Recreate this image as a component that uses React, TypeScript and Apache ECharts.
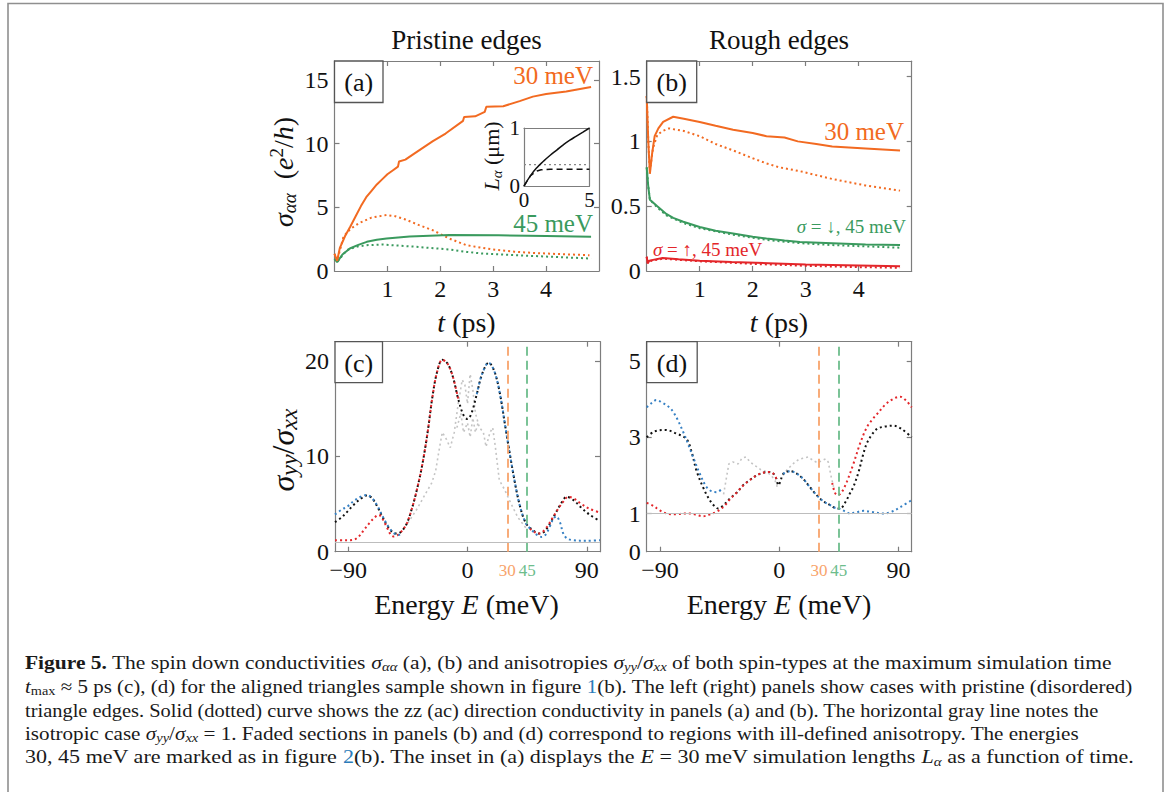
import React, { useEffect, useRef } from 'react';
import * as echarts from 'echarts';

// ---------------- colours & fonts ----------------
const ORANGE = '#f26a21';
const GREEN = '#3a9a5e';
const RED = '#e3262a';
const BLUE = '#3680c4';
const BLACK = '#111111';
const FADED = '#c4c4c4';
const ORANGE_L = '#f8a46c';
const GREEN_L = '#6dbd8c';
const AXIS_COLOR = '#7d7d7d';
const FONT = 'Liberation Serif';

// ---------------- data: panel (a)  [t (ps), sigma (e^2/h)] ----------------
const a30Solid = [[0, 1.35], [0.05, 0.8], [0.1, 1.8], [0.2, 2.75], [0.3, 3.5], [0.4, 4.3], [0.5, 5.1], [0.6, 5.8], [0.7, 6.3], [0.8, 6.8], [0.9, 7.2], [1.0, 7.6], [1.1, 7.9], [1.2, 8.2], [1.22, 8.6], [1.34, 8.75], [1.5, 9.2], [1.86, 10.2], [2.1, 10.8], [2.43, 11.8], [2.45, 12.1], [2.66, 12.15], [2.84, 12.5], [2.87, 12.9], [3.19, 12.95], [3.5, 13.35], [3.75, 13.7], [4.0, 13.9], [4.38, 14.1], [4.85, 14.45]];
const a30Dot = [[0, 1.35], [0.05, 0.8], [0.17, 2.7], [0.3, 3.3], [0.46, 3.75], [0.7, 4.2], [0.985, 4.4], [1.15, 4.3], [1.34, 4.05], [1.6, 3.6], [1.86, 3.2], [2.17, 2.55], [2.49, 2.03], [2.75, 1.85], [2.99, 1.69], [3.4, 1.52], [3.75, 1.42], [4.3, 1.32], [4.82, 1.24]];
const a45Solid = [[0, 0.95], [0.05, 0.7], [0.15, 1.3], [0.29, 1.77], [0.45, 2.05], [0.61, 2.29], [0.8, 2.45], [0.985, 2.55], [1.42, 2.72], [2.17, 2.82], [3.1, 2.8], [4.0, 2.75], [4.85, 2.7]];
const a45Dot = [[0, 0.95], [0.05, 0.7], [0.23, 1.63], [0.4, 1.9], [0.61, 2.03], [0.9, 2.08], [1.2, 2.0], [1.55, 1.9], [2.17, 1.69], [2.5, 1.5], [2.8, 1.37], [3.3, 1.27], [3.75, 1.18], [4.3, 1.08], [4.85, 0.98]];

// inset: [t (ps), L (um)]
const insetSolid = [[0, 0], [0.5, 0.18], [1, 0.32], [1.5, 0.43], [2, 0.53], [2.5, 0.62], [3, 0.71], [3.5, 0.79], [4, 0.86], [4.5, 0.93], [5, 1.0]];
const insetDashed = [[0, 0], [0.5, 0.18], [1.0, 0.26], [1.3, 0.28], [2, 0.29], [5, 0.29]];
const insetDotted = [[0, 0.37], [5, 0.37]];

// ---------------- data: panel (b) ----------------
const b30Solid = [[0, 1.35], [0.03, 1.0], [0.06, 0.75], [0.1, 0.9], [0.15, 1.04], [0.22, 1.1], [0.31, 1.15], [0.5, 1.19], [0.7, 1.175], [1.0, 1.15], [1.3, 1.12], [1.63, 1.09], [2.0, 1.065], [2.26, 1.04], [2.6, 1.03], [2.85, 1.0], [3.2, 0.98], [3.5, 0.96], [4.13, 0.945], [4.78, 0.93]];
const b30Dot = [[0, 1.35], [0.03, 1.0], [0.06, 0.77], [0.12, 0.95], [0.2, 1.05], [0.3, 1.08], [0.42, 1.1], [0.7, 1.08], [1.0, 1.04], [1.3, 0.98], [1.63, 0.93], [2.0, 0.87], [2.26, 0.83], [2.5, 0.8], [2.89, 0.77], [3.5, 0.71], [4.13, 0.66], [4.78, 0.62]];
const b45DownSolid = [[0, 0.8], [0.03, 0.65], [0.06, 0.55], [0.2, 0.5], [0.37, 0.44], [0.5, 0.41], [0.69, 0.38], [1.0, 0.34], [1.3, 0.31], [1.63, 0.29], [2.0, 0.265], [2.26, 0.25], [2.6, 0.235], [2.89, 0.224], [3.5, 0.215], [4.13, 0.205], [4.78, 0.2]];
const b45DownDot = [[0, 0.8], [0.03, 0.65], [0.06, 0.55], [0.2, 0.49], [0.37, 0.43], [0.69, 0.37], [1.0, 0.33], [1.63, 0.28], [2.26, 0.24], [2.89, 0.215], [3.5, 0.2], [4.13, 0.19], [4.78, 0.18]];
const b45UpSolid = [[0, 0.11], [0.02, 0.06], [0.05, 0.08], [0.3, 0.1], [0.6, 0.09], [1.0, 0.08], [1.6, 0.07], [2.3, 0.06], [3.0, 0.05], [4.0, 0.042], [4.78, 0.036]];
const b45UpDot = [[0, 0.11], [0.02, 0.06], [0.05, 0.075], [0.3, 0.095], [1.0, 0.075], [2.0, 0.055], [3.0, 0.04], [4.0, 0.03], [4.78, 0.025]];

// ---------------- data: panel (c)  [E (meV), sigma_yy/sigma_xx] ----------------
const cBlack = [[-100, 3.1], [-95, 3.6], [-90, 4.3], [-86, 4.9], [-80, 5.6], [-76, 5.9], [-72, 5.6], [-68, 4.7], [-64, 3.6], [-60, 2.6], [-56, 2.0], [-53, 1.9], [-50, 2.1], [-46, 2.9], [-42, 4.5], [-38, 6.6], [-34, 9.2], [-30, 12.6], [-26.5, 16.2], [-23, 18.8], [-19, 20.1], [-15, 19.7], [-11, 18.3], [-7, 16], [-3, 14.3], [0, 13.9], [3, 14.5], [7, 16.5], [11, 18.6], [16, 19.8], [20, 19.0], [24, 16.9], [29, 12.7], [34, 8.6], [39, 5.1], [44, 3.0], [49, 2.3], [54, 1.9], [58, 2.1], [62, 2.9], [66, 3.9], [70, 4.9], [75, 5.75], [80, 5.4], [86, 4.6], [92, 3.9], [100, 3.2]];
const cRedLeft = [[-100, 1.2], [-92, 1.2], [-86, 1.25], [-82, 1.6], [-78, 2.3], [-74, 3.0], [-70, 3.6], [-67, 3.85], [-64, 3.4], [-61, 2.6], [-58, 1.8], [-56, 1.6], [-53, 1.7], [-50, 2.1], [-46, 2.9], [-42, 4.5], [-38, 6.6], [-34, 9.2], [-30, 12.6], [-26.5, 16.2], [-23, 18.8], [-19, 20.1], [-15, 19.7], [-11, 18.3], [-7, 16]];
const cRedRight = [[47, 2.4], [50, 2.1], [53, 1.9], [56, 2.0], [60, 2.6], [64, 3.5], [68, 4.4], [72, 5.2], [76, 5.75], [80, 5.6], [86, 5.0], [92, 4.5], [100, 4.1]];
const cBlueLeft = [[-100, 3.9], [-95, 4.4], [-90, 4.8], [-86, 5.3], [-80, 5.8], [-76, 5.94], [-72, 5.6], [-68, 4.8], [-64, 3.7], [-60, 2.7], [-56, 2.0], [-52, 1.75], [-49, 1.9]];
const cBlueRight = [[7, 16.5], [11, 18.6], [16, 19.8], [20, 19.0], [24, 16.9], [29, 12.7], [34, 8.6], [39, 5.1], [44, 3.0], [49, 2.2], [53, 1.7], [56, 1.55], [59, 1.8], [62, 2.6], [65, 3.5], [67, 3.7], [70, 3.0], [72, 2.0], [75, 1.4], [80, 1.2], [90, 1.15], [100, 1.2]];
const cFadedA = [[-45, 3.0], [-38, 4.5], [-32, 6.0], [-27, 7.2], [-24, 8.5], [-21, 11], [-19, 12.5], [-16, 11.8], [-13, 10.9], [-10, 12.5], [-7, 15.5], [-4, 18], [-2, 17.5], [0, 15.5], [2, 18.6], [4, 17], [6, 14.5], [9, 13], [12, 12.5], [14, 11], [17, 12.5], [19, 13], [21, 11], [24, 7.5], [28, 6.5], [33, 5], [38, 3.6], [44, 2.5]];
const cFadedB = [[-8, 13], [-5, 14.5], [-3, 12.5], [0, 13.5], [2, 12], [4, 14], [6, 12.5], [8, 13.5]];

// ---------------- data: panel (d) ----------------
const dBlack = [[-100, 3.0], [-94, 3.15], [-86, 3.19], [-78, 3.1], [-70, 2.95], [-66, 2.6], [-62.5, 2.13], [-57, 1.65], [-52.4, 1.35], [-49, 1.2], [-46, 1.13], [-42, 1.22], [-37.3, 1.39], [-32, 1.55], [-27.2, 1.74], [-22, 1.88], [-17, 2.0], [-12, 2.07], [-7, 2.09], [-4, 2.03], [-2, 1.9], [-0.7, 1.74], [1, 1.85], [3, 2.04], [8, 2.11], [13, 2.05], [18, 1.91], [23, 1.7], [28.3, 1.48], [33, 1.33], [38.4, 1.22], [42, 1.15], [46, 1.13], [50, 1.3], [53, 1.5], [56, 1.7], [60, 2.1], [63, 2.5], [66, 2.83], [70, 3.07], [74, 3.22], [80, 3.28], [86, 3.3], [92, 3.22], [100, 3.0]];
const dRedLeft = [[-100, 1.28], [-95, 1.2], [-90, 1.08], [-85, 1.0], [-77.6, 0.98], [-72, 1.0], [-67, 1.0], [-62, 0.96], [-57.5, 0.93], [-52, 0.98], [-47, 1.05], [-44, 1.12], [-40, 1.25], [-37, 1.38], [-32, 1.55], [-27, 1.74], [-22, 1.88], [-17, 2.0], [-12, 2.07], [-7, 2.09], [-4, 2.03], [-2, 1.9]];
const dRedRight = [[40, 1.8], [42, 1.55], [44, 1.48], [47, 1.55], [51, 1.83], [56, 2.3], [61, 2.83], [66, 3.25], [70, 3.45], [73.7, 3.6], [80, 3.85], [86, 4.0], [91.3, 4.06], [96, 3.95], [100, 3.78]];
const dBlueLeft = [[-100, 3.78], [-96, 3.9], [-92.8, 3.97], [-88, 3.9], [-82, 3.75], [-77.6, 3.52], [-72, 3.1], [-68, 2.75], [-65, 2.48], [-60, 2.05], [-55, 1.7], [-51, 1.58], [-47.4, 1.56], [-44, 1.62]];
const dBlueRight = [[3, 2.04], [8, 2.11], [13, 2.05], [18, 1.91], [23, 1.7], [28.3, 1.48], [33, 1.33], [38.4, 1.22], [42, 1.15], [46, 1.12], [50, 1.05], [53.5, 1.0], [58, 1.03], [63.6, 1.07], [70, 1.04], [78.7, 1.0], [85, 1.05], [92, 1.18], [100, 1.35]];
const dFadedLeft = [[-42, 1.5], [-40, 1.9], [-38, 2.3], [-35, 2.35], [-31, 2.3], [-28, 2.45], [-25, 2.48], [-22, 2.35], [-18, 2.25], [-14, 2.15], [-10, 2.1], [-6, 2.0], [-3, 1.85], [-1.5, 1.7]];
const dFadedRight = [[3, 2.0], [6, 2.15], [9, 2.25], [12, 2.35], [15, 2.42], [18, 2.45], [22, 2.48], [26, 2.38], [29, 2.33], [32, 2.38], [35, 2.43], [37, 2.35], [39, 2.0], [41, 1.7]];

// ---------------- axis ticks / labels ----------------
const tTickLabels = [1, 2, 3, 4];
const aYLabels = [0, 5, 10, 15];
const bYLabels = [0, 0.5, 1, 1.5];
const cYLabels = [0, 10, 20];
const dYLabels = [0, 1, 3, 5];
const eTicks = [-90, 0, 90];
const markedEnergies = [30, 45];
const eLabels = [-90, 0, ...markedEnergies, 90];
const isotropicRatio = 1;

// ---------------- caption ----------------
type Seg = [string, string?];
const captionLines: Seg[][] = [
  [['Figure 5.', 'b'], [' The spin down conductivities '], ['σ', 'i'], ['αα', 'sub'], [' (a), (b) and anisotropies '], ['σ', 'i'], ['yy', 'sub'], ['/'], ['σ', 'i'], ['xx', 'sub'], [' of both spin-types at the maximum simulation time']],
  [['t', 'i'], ['max', 'subr'], [' ≈ 5 ps (c), (d) for the aligned triangles sample shown in figure '], ['1', 'bl'], ['(b). The left (right) panels show cases with pristine (disordered)']],
  [['triangle edges. Solid (dotted) curve shows the zz (ac) direction conductivity in panels (a) and (b). The horizontal gray line notes the']],
  [['isotropic case '], ['σ', 'i'], ['yy', 'sub'], ['/'], ['σ', 'i'], ['xx', 'sub'], [' = 1. Faded sections in panels (b) and (d) correspond to regions with ill-defined anisotropy. The energies']],
  [['30, 45 meV are marked as in figure '], ['2', 'bl'], ['(b). The inset in (a) displays the '], ['E', 'i'], [' = 30 meV simulation lengths '], ['L', 'i'], ['α', 'sub'], [' as a function of time.']],
];
const CAP_X = 25;
const CAP_Y = [662, 686, 710, 733, 757];
const CAP_W = [1087, 1108, 1075, 1055, 1109];
const CAP_SIZE = 19;
const CAP_STYLES: Record<string, any> = {
  '': { fontSize: CAP_SIZE, lineHeight: 22 },
  b: { fontSize: CAP_SIZE, fontWeight: 'bold', lineHeight: 22 },
  i: { fontSize: CAP_SIZE, fontStyle: 'italic', lineHeight: 22 },
  sub: { fontSize: 13, fontStyle: 'italic', verticalAlign: 'bottom', lineHeight: 15 },
  subr: { fontSize: 13, verticalAlign: 'bottom', lineHeight: 15 },
  bl: { fontSize: CAP_SIZE, fill: '#2b7bb9', lineHeight: 22 },
};

function measureSegs(segs: Seg[]): number {
  const ctx = document.createElement('canvas').getContext('2d');
  if (!ctx) return 1000;
  let w = 0;
  for (const [t, k] of segs) {
    const st = CAP_STYLES[k || ''];
    ctx.font = `${st.fontStyle || 'normal'} ${st.fontWeight || 'normal'} ${st.fontSize}px "${FONT}"`;
    w += ctx.measureText(t).width;
  }
  return w;
}
const richOf = (segs: Seg[]) => segs.map(([t, k]) => (k ? `{${k}|${t}}` : t)).join('');

const fmtNum = (v: number) => (v < 0 ? '\u2212' + Math.abs(v) : String(v));

function valAxis(gridIndex: number, min: number, max: number, position: string, labelVals: number[], tickVals: number[], extra: any = {}) {
  return {
    type: 'value',
    gridIndex,
    min,
    max,
    position,
    axisLine: { show: true, onZero: false, lineStyle: { color: AXIS_COLOR, width: 1.2 } },
    axisTick: { show: tickVals.length > 0, inside: true, length: 5, customValues: tickVals, lineStyle: { color: AXIS_COLOR, width: 1.2 } },
    axisLabel: {
      show: labelVals.length > 0,
      customValues: labelVals,
      color: '#111',
      fontFamily: FONT,
      fontSize: 24,
      margin: 6,
      formatter: (v: number) => fmtNum(v),
      ...(extra.axisLabel || {}),
    },
    splitLine: { show: false },
  };
}

const DOT: any = [2, 3];
function ln(data: number[][], xi: number, yi: number, color: string, kind: string, smooth: any = false, width = 2, z = 3) {
  return {
    type: 'line',
    data,
    xAxisIndex: xi,
    yAxisIndex: yi,
    showSymbol: false,
    symbol: 'none',
    smooth,
    silent: true,
    z,
    lineStyle: { color, width, type: kind === 'solid' ? 'solid' : kind === 'dot' ? DOT : [6, 4] },
  };
}

function markLines() {
  return {
    silent: true,
    symbol: ['none', 'none'],
    label: { show: false },
    data: [
      { xAxis: markedEnergies[0], lineStyle: { color: ORANGE_L, type: [9, 5], width: 1.8 } },
      { xAxis: markedEnergies[1], lineStyle: { color: GREEN_L, type: [9, 5], width: 1.8 } },
      { yAxis: isotropicRatio, lineStyle: { color: '#bdbdbd', type: 'solid', width: 1.2 } },
    ],
  };
}

const eAxisLabel = {
  axisLabel: {
    formatter: (v: number) => (v === markedEnergies[0] ? `{o|${v}}` : v === markedEnergies[1] ? `{g|${v}}` : fmtNum(v)),
    rich: {
      o: { color: ORANGE_L, fontSize: 17, fontFamily: FONT, padding: [4, 0, 0, 0] },
      g: { color: GREEN_L, fontSize: 17, fontFamily: FONT, padding: [4, 0, 0, 0] },
    },
  },
};

export default function App() {
  const ref = useRef<HTMLDivElement>(null);
  useEffect(() => {
    if (!ref.current) return;
    document.body.style.margin = '0';
    const chart = echarts.init(ref.current, undefined, { renderer: 'svg' });

    const G = [
      { left: 334.5, top: 61, width: 264.5, height: 210 },
      { left: 646.7, top: 61, width: 265, height: 210 },
      { left: 335, top: 341.7, width: 265, height: 210 },
      { left: 646.7, top: 341.7, width: 265, height: 210 },
      { left: 524, top: 128, width: 65.5, height: 58 },
    ];

    const insetLabel = { axisLabel: { fontSize: 21, margin: 4 } };
    const xAxis = [
      valAxis(0, 0, 5, 'bottom', tTickLabels, tTickLabels),
      valAxis(0, 0, 5, 'top', [], tTickLabels),
      valAxis(1, 0, 5, 'bottom', tTickLabels, tTickLabels),
      valAxis(1, 0, 5, 'top', [], tTickLabels),
      valAxis(2, -100, 100, 'bottom', eLabels, eTicks, eAxisLabel),
      valAxis(2, -100, 100, 'top', [], eTicks),
      valAxis(3, -100, 100, 'bottom', eLabels, eTicks, eAxisLabel),
      valAxis(3, -100, 100, 'top', [], eTicks),
      valAxis(4, 0, 5, 'bottom', [0, 5], [], { axisLabel: { fontSize: 21, margin: 3 } }),
      valAxis(4, 0, 5, 'top', [], []),
    ];
    const yAxis = [
      valAxis(0, 0, 16.5, 'left', aYLabels, aYLabels.slice(1)),
      valAxis(0, 0, 16.5, 'right', [], aYLabels.slice(1)),
      valAxis(1, 0, 1.62, 'left', bYLabels, bYLabels.slice(1)),
      valAxis(1, 0, 1.62, 'right', [], bYLabels.slice(1)),
      valAxis(2, 0, 22, 'left', cYLabels, cYLabels.slice(1)),
      valAxis(2, 0, 22, 'right', [], cYLabels.slice(1)),
      valAxis(3, 0, 5.5, 'left', dYLabels, dYLabels.slice(1)),
      valAxis(3, 0, 5.5, 'right', [], dYLabels.slice(1)),
      valAxis(4, 0, 1, 'left', [0, 1], [], insetLabel),
      valAxis(4, 0, 1, 'right', [], []),
    ];

    const SM = 0.35;
    const series: any[] = [
      // (a)
      ln(a30Dot, 0, 0, ORANGE, 'dot'),
      ln(a45Dot, 0, 0, GREEN, 'dot'),
      ln(a45Solid, 0, 0, GREEN, 'solid'),
      ln(a30Solid, 0, 0, ORANGE, 'solid'),
      // inset
      ln(insetDotted, 8, 8, '#888', 'dot', false, 1.3),
      ln(insetDashed, 8, 8, BLACK, 'dash', false, 1.5),
      ln(insetSolid, 8, 8, BLACK, 'solid', true, 1.5),
      // (b)
      ln(b30Dot, 2, 2, ORANGE, 'dot'),
      ln(b30Solid, 2, 2, ORANGE, 'solid'),
      ln(b45DownSolid, 2, 2, GREEN, 'solid'),
      ln(b45DownDot, 2, 2, GREEN, 'dot'),
      ln(b45UpSolid, 2, 2, RED, 'solid'),
      ln(b45UpDot, 2, 2, RED, 'dot'),
      // (c)
      { ...ln(cFadedA, 4, 4, FADED, 'dot', false, 1.6, 2) },
      { ...ln(cFadedB, 4, 4, FADED, 'dot', false, 1.6, 2) },
      { ...ln(cBlack, 4, 4, BLACK, 'dot', SM), markLine: markLines() },
      ln(cRedLeft, 4, 4, RED, 'dot', SM),
      ln(cRedRight, 4, 4, RED, 'dot', SM),
      ln(cBlueLeft, 4, 4, BLUE, 'dot', SM),
      ln(cBlueRight, 4, 4, BLUE, 'dot', SM),
      // (d)
      { ...ln(dFadedLeft, 6, 6, FADED, 'dot', false, 1.6, 2) },
      { ...ln(dFadedRight, 6, 6, FADED, 'dot', false, 1.6, 2) },
      { ...ln(dBlack, 6, 6, BLACK, 'dot', SM), markLine: markLines() },
      ln(dRedLeft, 6, 6, RED, 'dot', SM),
      ln(dRedRight, 6, 6, RED, 'dot', SM),
      ln(dBlueLeft, 6, 6, BLUE, 'dot', SM),
      ln(dBlueRight, 6, 6, BLUE, 'dot', SM),
    ];

    const txt = (x: number, y: number, text: string, o: any = {}, el: any = {}) => ({
      type: 'text',
      x,
      y,
      z: 100,
      silent: true,
      ...el,
      style: { text, fontFamily: FONT, fontSize: 26, fill: '#111', align: 'center', verticalAlign: 'middle', ...o },
    });
    const box = (x: number, y: number, w: number, h: number, label: string) => ({
      type: 'group',
      z: 100,
      children: [
        { type: 'rect', z: 100, shape: { x, y, width: w, height: h }, style: { fill: '#fff', stroke: '#555', lineWidth: 1.3 } },
        txt(x + w / 2, y + h / 2 + 1, label, { fontSize: 26 }),
      ],
    });

    const mathRich = (size: number, subSize: number) => ({
      i: { fontStyle: 'italic', fontSize: size, fontFamily: FONT, lineHeight: size + 4 },
      sub: { fontStyle: 'italic', fontSize: subSize, fontFamily: FONT, verticalAlign: 'bottom', lineHeight: subSize + 2 },
      sup: { fontStyle: 'italic', fontSize: subSize, fontFamily: FONT, verticalAlign: 'top', lineHeight: subSize - 2 },
      supr: { fontSize: subSize, fontFamily: FONT, verticalAlign: 'top', lineHeight: subSize - 2 },
    });

    const captions = captionLines.map((segs, i) => {
      const w = measureSegs(segs);
      const sx = CAP_W[i] / w;
      return {
        type: 'text',
        x: CAP_X,
        y: CAP_Y[i],
        scaleX: sx,
        z: 100,
        silent: true,
        style: {
          text: richOf(segs),
          fontFamily: FONT,
          fontSize: CAP_SIZE,
          lineHeight: 22,
          fill: '#1a1a1a',
          align: 'left',
          verticalAlign: 'middle',
          rich: Object.fromEntries(Object.entries(CAP_STYLES).filter(([k]) => k !== '').map(([k, v]) => [k, { fontFamily: FONT, ...v }])),
        },
      };
    });

    const graphic: any[] = [
      { type: 'rect', z: 0, silent: true, shape: { x: 8, y: 3.5, width: 1155, height: 800 }, style: { fill: 'none', stroke: '#8f8f8f', lineWidth: 1.6 } },
      txt(466.5, 40, 'Pristine edges', { fontSize: 27 }),
      txt(779, 40, 'Rough edges', { fontSize: 27 }),
      txt(466.5, 322, '{i|t} (ps)', { fontSize: 28, rich: mathRich(28, 19) }),
      txt(779, 322, '{i|t} (ps)', { fontSize: 28, rich: mathRich(28, 19) }),
      txt(466.5, 604, 'Energy {i|E} (meV)', { fontSize: 28, rich: mathRich(28, 19) }),
      txt(779, 604, 'Energy {i|E} (meV)', { fontSize: 28, rich: mathRich(28, 19) }),
      txt(283, 172, '{i|σ}{sub|αα}  ({i|e}{supr|2}/{i|h})', { fontSize: 28, rich: mathRich(28, 19) }, { rotation: Math.PI / 2 }),
      txt(283, 450, '{i|σ}{sub|yy}/{i|σ}{sub|xx}', { fontSize: 32, rich: mathRich(32, 24) }, { rotation: Math.PI / 2 }),
      txt(491, 156, '{i|L}{sub|α} (μm)', { fontSize: 22, rich: mathRich(22, 15) }, { rotation: Math.PI / 2 }),
      box(334.5, 61, 48.5, 41.5, '(a)'),
      box(646.7, 61, 50, 41.5, '(b)'),
      box(335, 341.7, 47.5, 41, '(c)'),
      box(646.7, 341.7, 50.5, 41, '(d)'),
      txt(593, 75, '30 meV', { fontSize: 25, fill: ORANGE, align: 'right' }),
      txt(593, 223, '45 meV', { fontSize: 25, fill: GREEN, align: 'right' }),
      txt(904, 131, '30 meV', { fontSize: 25, fill: ORANGE, align: 'right' }),
      txt(906, 226, '{i|σ} = ↓, 45 meV', { fontSize: 19, fill: GREEN, align: 'right', rich: { i: { fontStyle: 'italic', fontSize: 19, fontFamily: FONT } } }),
      txt(653, 249, '{i|σ} = ↑, 45 meV', { fontSize: 19, fill: RED, align: 'left', rich: { i: { fontStyle: 'italic', fontSize: 19, fontFamily: FONT } } }),
      ...captions,
    ];

    chart.setOption({
      animation: false,
      backgroundColor: '#ffffff',
      grid: G.map((g) => ({ ...g, containLabel: false })),
      xAxis,
      yAxis,
      series,
      graphic,
    });
    return () => chart.dispose();
  }, []);
  return <div ref={ref} style={{ position: 'fixed', left: 0, top: 0, width: 1170, height: 792, background: '#fff' }} />;
}
